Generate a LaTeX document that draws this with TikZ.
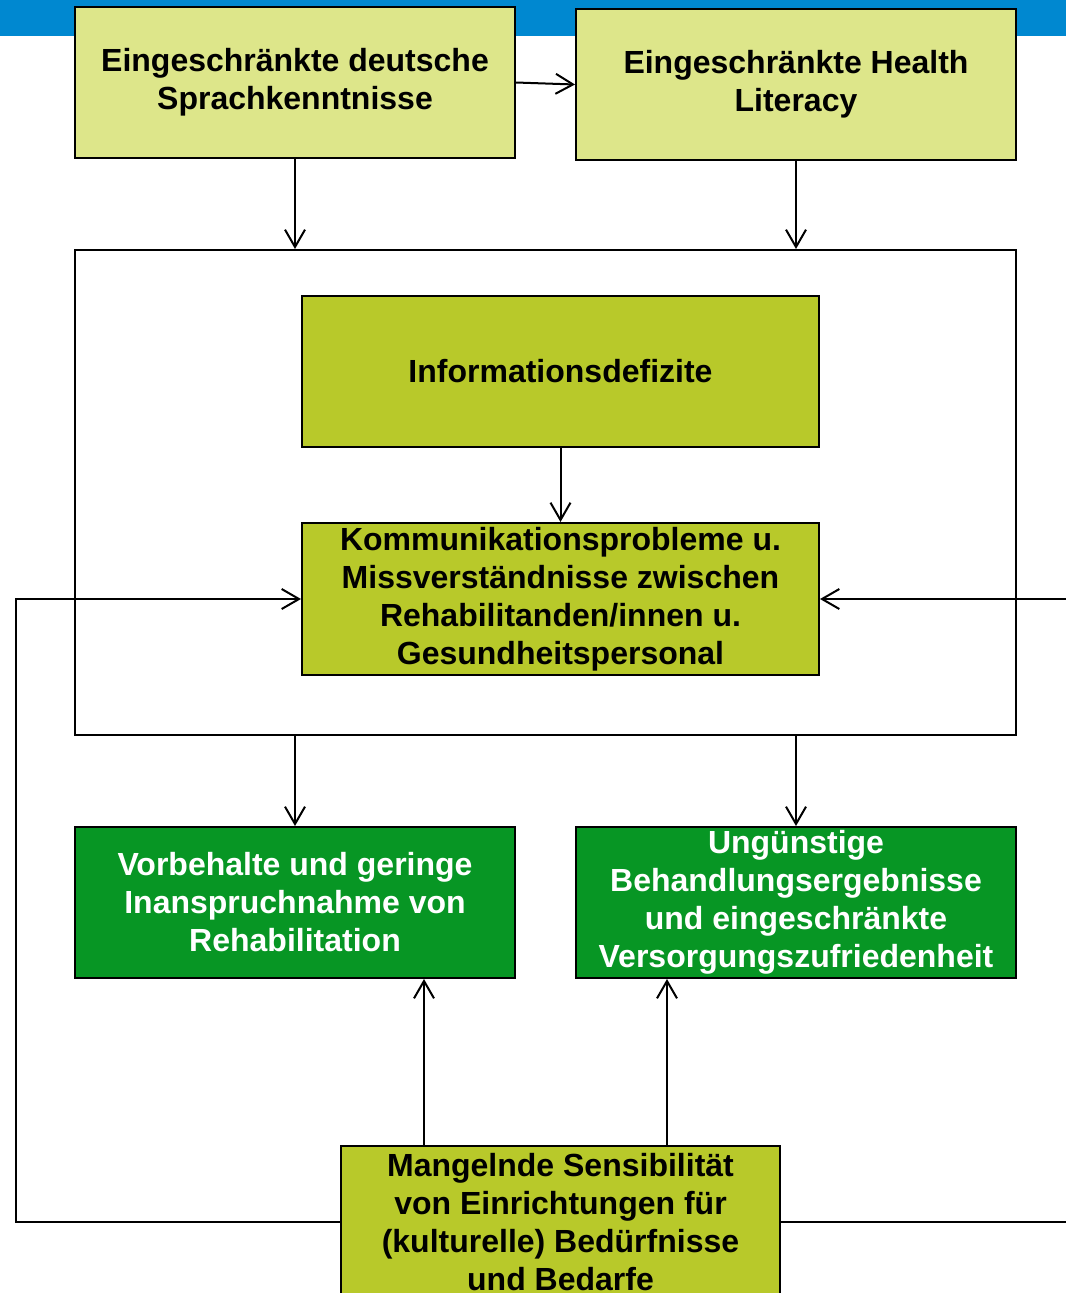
\documentclass[tikz,border=0pt]{standalone}
\usepackage{fontspec}
\setmainfont{Liberation Sans}
\usetikzlibrary{arrows.meta}
\definecolor{barblue}{RGB}{0,136,208}
\definecolor{paleolive}{RGB}{221,230,138}
\definecolor{olive}{RGB}{184,201,42}
\definecolor{deepgreen}{RGB}{7,150,36}
\begin{document}
\begin{tikzpicture}[x=0.75pt, y=-0.75pt, line width=1.5pt, >={Straight Barb[length=13pt,width=15pt]},
  every node/.style={font=\fontsize{24}{28.5}\selectfont\bfseries, align=center, inner sep=0pt},
  box/.style={draw, minimum width=330pt, minimum height=113.25pt},
  wide/.style={draw, minimum width=387.75pt, minimum height=113.25pt}]
\useasboundingbox (0,0) rectangle (1066,1293);
\clip (0,0) rectangle (1066,1293);
\fill[barblue] (0,0) rectangle (1066,36);
\node[draw, minimum width=705.75pt, minimum height=363.75pt] (frame) at (545.5,492.5) {};
% top row
\node[box, fill=paleolive] (sprache) at (295,82.5) {Eingeschränkte deutsche\\Sprachkenntnisse};
\node[box, fill=paleolive] (health) at (796,84.5) {Eingeschränkte Health\\Literacy};
% inside the frame
\node[wide, fill=olive] (info) at (560.5,371) {Informationsdefizite};
\node[wide, fill=olive, minimum height=114pt] (komm) at (560.5,599) {Kommunikationsprobleme u.\\Missverständnisse zwischen\\Rehabilitanden/innen u.\\Gesundheitspersonal};
% outcomes
\node[box, fill=deepgreen, text=white] (vorbehalt) at (295,902.5) {Vorbehalte und geringe\\Inanspruchnahme von\\Rehabilitation};
\node[box, fill=deepgreen, text=white] (ergebnis) at (796,902.5) {Ungünstige\\Behandlungsergebnisse\\und eingeschränkte\\Versorgungszufriedenheit};
\node[box, fill=olive, minimum width=329.25pt, minimum height=114pt] (sensib) at (560.5,1222) {Mangelnde Sensibilität\\von Einrichtungen für\\(kulturelle) Bedürfnisse\\und Bedarfe};
\coordinate (gl) at (424,1146);
\coordinate (gr) at (667,1146);
\coordinate (lturn) at (16,1222);
\coordinate (rturn) at (1085,1222);
% connectors
\draw[->] (sprache.east) -- (health.west);
\draw[->] (sprache.south) -- (sprache.south |- frame.north);
\draw[->] (health.south) -- (health.south |- frame.north);
\draw[->] (info) -- (komm);
\draw[->] (vorbehalt.north |- frame.south) -- (vorbehalt.north);
\draw[->] (ergebnis.north |- frame.south) -- (ergebnis.north);
\draw[->] (gl) -- (gl |- vorbehalt.south);
\draw[->] (gr) -- (gr |- ergebnis.south);
\draw[->] (sensib.west) -- (lturn) |- (komm.west);
\draw[->] (sensib.east) -- (rturn) |- (komm.east);
\end{tikzpicture}
\end{document}
